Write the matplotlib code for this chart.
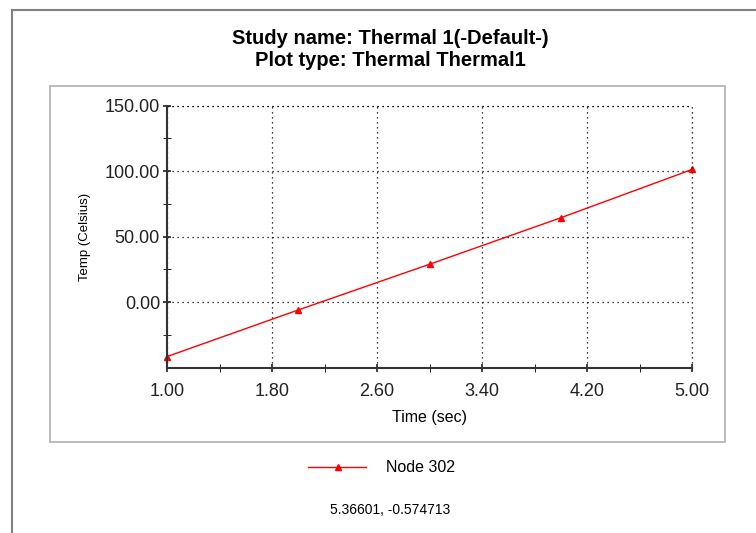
import matplotlib
matplotlib.use('Agg')
import matplotlib.pyplot as plt
from matplotlib.lines import Line2D
from matplotlib.patches import Rectangle
from matplotlib.ticker import FormatStrFormatter

plt.rcParams['font.family'] = ['Liberation Sans', 'DejaVu Sans']

# data
time_sec = [1.0, 2.0, 3.0, 4.0, 5.0]
temp_c = [-41.5, -5.9, 29.0, 64.5, 101.4]
x_ticks = [1.0, 1.8, 2.6, 3.4, 4.2, 5.0]
x_minor = [1.4, 2.2, 3.0, 3.8, 4.6]
y_ticks = [0, 50, 100, 150]
y_minor = [-25, 25, 75, 125]
series_name = 'Node 302'
title_lines = ['Study name: Thermal 1(-Default-)', 'Plot type: Thermal Thermal1']
cursor_text = '5.36601, -0.574713'

fig = plt.figure(figsize=(7.56, 5.33), dpi=100)
W, H = 756.0, 533.0

# outer frame lines (window border)
fig.add_artist(Line2D([12 / W, 12 / W], [0, 1 - 10 / H], color='#808080', lw=1.5))
fig.add_artist(Line2D([12 / W, 1], [1 - 10 / H, 1 - 10 / H], color='#808080', lw=1.5))
# inner panel box
fig.add_artist(Rectangle((50 / W, 1 - 442 / H), (725 - 50) / W, (442 - 86) / H,
                         fill=False, edgecolor='#b0b0b0', lw=1.2))

ax = fig.add_axes([167 / W, 1 - 367.7 / H, (692.3 - 167) / W, (367.7 - 105.7) / H])
ax.plot(time_sec, temp_c, color='red', lw=1, marker='^', ms=4, clip_on=False)

ax.set_xlim(1.0, 5.0)
ax.set_ylim(-50, 150)
ax.set_xticks(x_ticks)
ax.set_xticks(x_minor, minor=True)
ax.set_yticks(y_ticks)
ax.set_yticks(y_minor, minor=True)
ax.xaxis.set_major_formatter(FormatStrFormatter('%.2f'))
ax.yaxis.set_major_formatter(FormatStrFormatter('%.2f'))
ax.tick_params(axis='both', labelsize=13, colors='#222222', width=1.2)
ax.tick_params(axis='both', which='both', direction='inout', length=6)
ax.tick_params(axis='x', pad=8)
ax.tick_params(axis='y', pad=2)

for s in ['top', 'right']:
    ax.spines[s].set_visible(False)
for s in ['left', 'bottom']:
    ax.spines[s].set_color('#333333')
    ax.spines[s].set_linewidth(1.5)

ax.grid(True, which='major', color='black', linestyle=(0, (1, 3)), lw=0.9)
# grid lines at the far edges
ax.axhline(150, color='black', linestyle=(0, (1, 3)), lw=0.9, clip_on=False)
ax.axvline(5.0, color='black', linestyle=(0, (1, 3)), lw=0.9, clip_on=False)

ax.set_xlabel('Time (sec)', fontsize=11.5, labelpad=7)
ax.set_ylabel('Temp (Celsius)', fontsize=9.5, labelpad=10)

fig.text(390 / W, 1 - 39 / H, title_lines[0], ha='center', va='center',
         fontsize=14.5, fontweight='bold')
fig.text(390 / W, 1 - 60 / H, title_lines[1], ha='center', va='center',
         fontsize=14.5, fontweight='bold')

# legend
fig.add_artist(Line2D([308 / W, 366 / W], [1 - 467 / H, 1 - 467 / H], color='red', lw=1))
fig.add_artist(Line2D([338 / W], [1 - 467 / H], color='red', marker='^', ms=4))
fig.text(386 / W, 1 - 467 / H, series_name, ha='left', va='center', fontsize=11.5)

fig.text(390 / W, 1 - 510 / H, cursor_text, ha='center', va='center', fontsize=10)

fig.savefig('out.png', dpi=100)
